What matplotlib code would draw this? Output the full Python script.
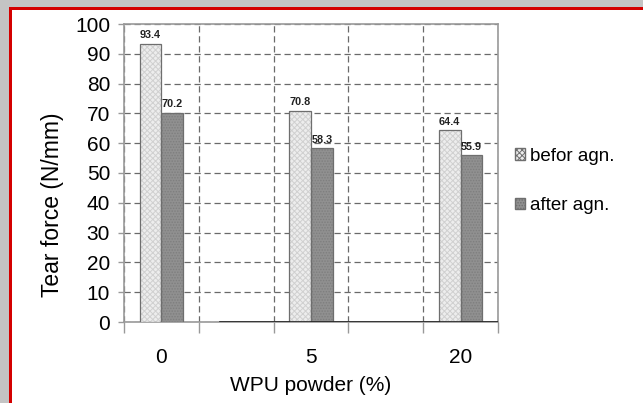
import matplotlib.pyplot as plt
from matplotlib.patches import Rectangle, Patch
import numpy as np

plt.rcParams['font.family'] = ['Liberation Sans', 'DejaVu Sans']
plt.rcParams['hatch.linewidth'] = 0.7

# data (blank categories between the real ones, as in the original sheet)
categories = ["0", "", "5", "", "20"]
befor_agn = [93.4, 0, 70.8, 0, 64.4]
after_agn = [70.2, 0, 58.3, 0, 55.9]
series_names = ["befor agn.", "after agn."]

W, H = 643, 403
fig = plt.figure(figsize=(W / 100, H / 100), dpi=100)

# screenshot frame: grey shadow + red border on left and top
fig.add_artist(Rectangle((0, 0), 9 / W, 1, transform=fig.transFigure,
                         color="#c4c4c4", lw=0))
fig.add_artist(Rectangle((0, 1 - 7 / H), 1, 7 / H, transform=fig.transFigure,
                         color="#c4c4c4", lw=0))
fig.add_artist(Rectangle((9 / W, 0), 2.5 / W, 1 - 7 / H, transform=fig.transFigure,
                         color="#d40000", lw=0))
fig.add_artist(Rectangle((9 / W, 1 - 9.5 / H), 1 - 9 / W, 2.5 / H,
                         transform=fig.transFigure, color="#d40000", lw=0))

ax = fig.add_axes([124 / W, 1 - 322 / H, (498 - 124) / W, (322 - 24) / H])

x = np.arange(len(categories))
bw = 0.29
valid = [i for i in x if categories[i] != ""]
b1 = [befor_agn[i] for i in valid]
b2 = [after_agn[i] for i in valid]
xv = np.array(valid)

# hatched fills
ax.bar(xv - bw / 2, b1, bw, color="#ededed", edgecolor="#d0d0d0", hatch="xxxxxx",
       lw=0, zorder=3)
ax.bar(xv + bw / 2, b2, bw, color="#909090", edgecolor="#7e7e7e", hatch="......",
       lw=0, zorder=3)
# outlines
ax.bar(xv - bw / 2, b1, bw, fill=False, edgecolor="#6e6e6e", lw=0.9, zorder=4)
ax.bar(xv + bw / 2, b2, bw, fill=False, edgecolor="#6e6e6e", lw=0.9, zorder=4)

for xi, v in zip(xv, b1):
    ax.text(xi - bw / 2, v + 1.2, f"{v:.1f}", ha="center", va="bottom",
            fontsize=7.8, fontweight="bold", color="#222222", zorder=5)
for xi, v in zip(xv, b2):
    ax.text(xi + bw / 2, v + 1.2, f"{v:.1f}", ha="center", va="bottom",
            fontsize=7.8, fontweight="bold", color="#222222", zorder=5)

ax.set_xlim(-0.5, len(categories) - 0.5)
ax.set_ylim(0, 100)
ax.set_yticks(np.arange(0, 101, 10))
ax.set_xticks(xv)
ax.set_xticklabels([categories[i] for i in valid], fontsize=15)
ax.set_xticks(np.arange(-0.5, len(categories), 1), minor=True)
ax.tick_params(axis="x", which="major", length=0, pad=19)
ax.tick_params(axis="x", which="minor", length=8, color="#999999", width=1)
ax.tick_params(axis="y", length=4, color="#999999", width=1, labelsize=15, pad=6)

ax.grid(axis="y", which="major", ls=(0, (5, 3)), color="#6a6a6a", lw=0.9, zorder=1)
ax.grid(axis="x", which="minor", ls=(0, (5, 3)), color="#6a6a6a", lw=0.9, zorder=1)
for s in ax.spines.values():
    s.set_color("#9a9a9a")
    s.set_linewidth(1.2)
ax.axhline(0, xmin=(220 - 124) / (498 - 124), xmax=1, color="#222222", lw=1.2,
           zorder=6)

ax.set_xlabel("WPU powder (%)", fontsize=15, labelpad=6)
ax.set_ylabel("Tear force (N/mm)", fontsize=16.5, va="center")
ax.yaxis.set_label_coords((53 - 124) / 374, (322 - 205) / 298)

handles = [Patch(facecolor="#ededed", edgecolor="#6e6e6e", hatch="xxxxxx"),
           Patch(facecolor="#909090", edgecolor="#6e6e6e", hatch="......")]
fig.legend(handles, series_names, loc="center left",
           bbox_to_anchor=(515 / W, 1 - 181 / H), frameon=False, fontsize=13.5,
           handlelength=0.55, handleheight=0.55, handletextpad=0.25,
           labelspacing=1.75, borderpad=0, borderaxespad=0)

fig.savefig("out.png", dpi=100)
